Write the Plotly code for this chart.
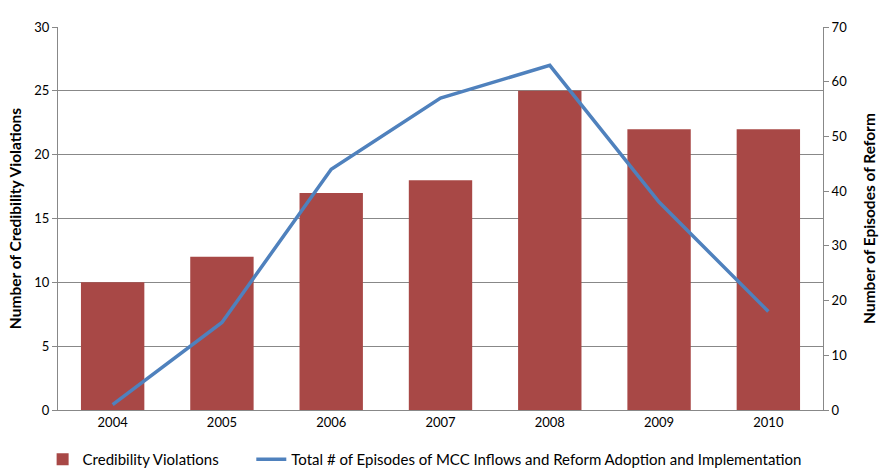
import plotly.graph_objects as go

years = ["2004", "2005", "2006", "2007", "2008", "2009", "2010"]
violations = [10, 12, 17, 18, 25, 22, 22]
episodes = [1, 16, 44, 57, 63, 38, 18]

bar_name = "Credibility Violations"
line_name = "Total # of Episodes of MCC Inflows and Reform Adoption and Implementation"

FONT = "Lato, 'Open Sans', sans-serif"

fig = go.Figure()
fig.add_trace(go.Bar(x=years, y=violations, name=bar_name,
                     marker=dict(color="#A84846", line=dict(width=0)),
                     yaxis="y", legend="legend"))
fig.add_trace(go.Scatter(x=years, y=episodes, name=line_name, mode="lines",
                         line=dict(color="#4F81BD", width=3.5),
                         yaxis="y2", legend="legend2"))

leg_common = dict(orientation="h", xref="container", xanchor="left",
                  y=0.018, yref="container", yanchor="middle",
                  font=dict(size=15, color="#000"), itemwidth=30,
                  bgcolor="rgba(0,0,0,0)")

fig.update_layout(
    width=888, height=468,
    margin=dict(l=58, r=62, t=27, b=58),
    paper_bgcolor="white", plot_bgcolor="white",
    font=dict(family=FONT, size=13, color="#222"),
    bargap=0.42,
    showlegend=True,
    legend=dict(x=0.048, **leg_common),
    legend2=dict(x=0.283, **leg_common),
    xaxis=dict(showline=True, linecolor="#888", linewidth=1,
               ticks="", showgrid=False,
               tickfont=dict(size=13, color="#000")),
    yaxis=dict(range=[0, 30], dtick=5, showgrid=True, gridcolor="#888",
               gridwidth=1, showline=True, linecolor="#888", linewidth=1,
               ticks="outside", ticklen=5, tickcolor="#888",
               tickfont=dict(size=13, color="#000"),
               title=dict(text="<b>Number of Credibility Violations</b>",
                          font=dict(size=15.5, color="#000"), standoff=8),
               zeroline=False),
    yaxis2=dict(range=[0, 70], dtick=10, overlaying="y", side="right",
                showgrid=False, showline=True, linecolor="#888", linewidth=1,
                ticks="outside", ticklen=5, tickcolor="#888",
                tickfont=dict(size=13, color="#000"),
                title=dict(text="<b>Number of Episodes of Reform</b>",
                           font=dict(size=15.5, color="#000"), standoff=18),
                zeroline=False),
)

fig.write_html("out.html")
